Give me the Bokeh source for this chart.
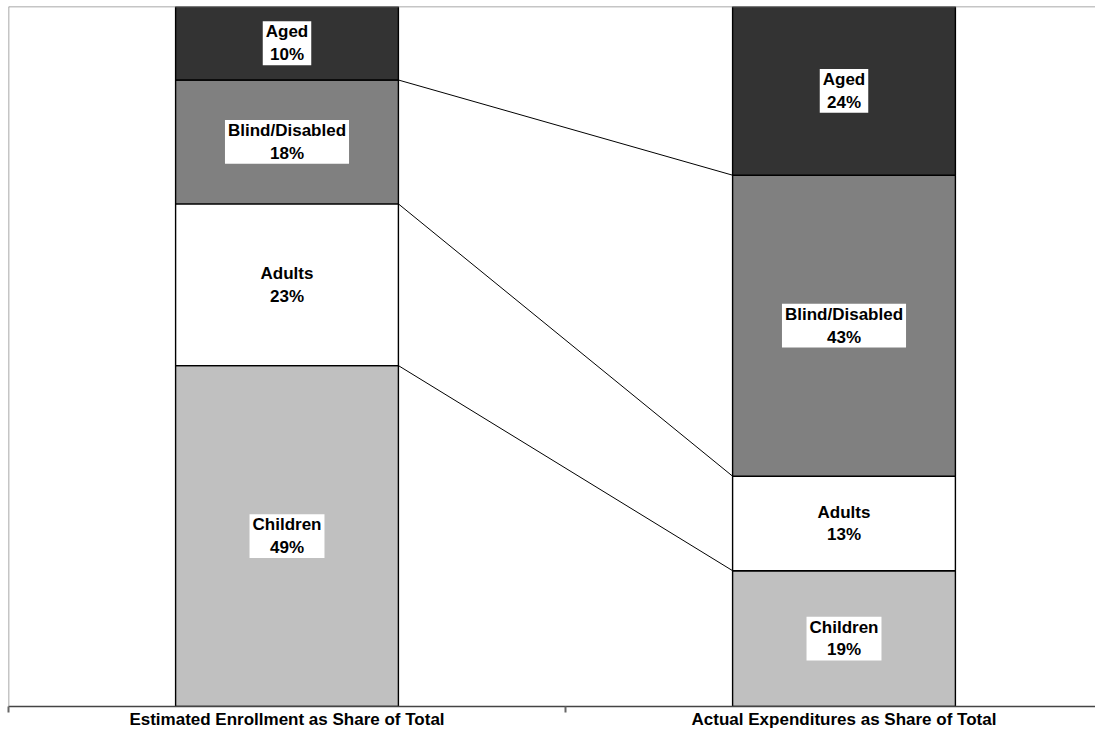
import numpy as np
from bokeh.plotting import figure
from bokeh.models import FixedTicker, Span, ColumnDataSource
from bokeh.core.properties import value
from bokeh.embed import file_html
from bokeh.resources import INLINE

groups = ["Estimated Enrollment as Share of Total", "Actual Expenditures as Share of Total"]
segments = ["Children", "Adults", "Blind/Disabled", "Aged"]
colors = ["#C0C0C0", "#FFFFFF", "#808080", "#333333"]
enrollment = [48.7, 23.1, 17.7, 10.5]
expenditures = [19.4, 13.5, 43.0, 24.1]
enrollment_labels = ["49%", "23%", "18%", "10%"]
expenditure_labels = ["19%", "13%", "43%", "24%"]

positions = [0.5, 1.5]
bar_w = 0.4

W, H = 1095, 731
LEFT, TOP = 8, 6
p = figure(width=W, height=H, output_backend="svg", toolbar_location=None,
           x_range=(0, (W - LEFT) / 557.0), y_range=(0, 100),
           min_border_left=LEFT, min_border_right=0, min_border_top=TOP,
           min_border_bottom=0)
p.outline_line_color = None
p.grid.visible = False
p.yaxis.visible = False

series = [enrollment, expenditures]
label_sets = [enrollment_labels, expenditure_labels]
for gi, (vals, labs) in enumerate(zip(series, label_sets)):
    v = np.array(vals, dtype=float)
    tops = np.cumsum(v)
    bottoms = tops - v
    src = ColumnDataSource(dict(x=[positions[gi]] * len(v), top=tops, bottom=bottoms,
                                color=colors, mid=(tops + bottoms) / 2,
                                txt=[f"{s}\n{l}" for s, l in zip(segments, labs)]))
    p.vbar(x="x", top="top", bottom="bottom", width=bar_w, fill_color="color",
           line_color="black", line_width=1.4, source=src)
    p.text(x="x", y="mid", text="txt", source=src, text_align="center",
           text_baseline="middle", text_font=value("Liberation Sans"),
           text_font_style="bold", text_font_size="17px", text_color="black",
           text_line_height=1.2, background_fill_color="white",
           padding=dict(x=3, y=1))

# connector lines between matching boundaries
b0 = np.cumsum(enrollment)[:-1]
b1 = np.cumsum(expenditures)[:-1]
p.segment(x0=[positions[0] + bar_w / 2] * len(b0), y0=b0,
          x1=[positions[1] - bar_w / 2] * len(b1), y1=b1,
          line_color="black", line_width=1)

# frame lines on top and left
p.add_layout(Span(location=100, dimension="width", line_color="#8c8c8c", line_width=1.5))
p.add_layout(Span(location=0, dimension="height", line_color="#8c8c8c", line_width=1.5))

ax = p.xaxis[0]
ax.ticker = FixedTicker(ticks=positions, minor_ticks=[0, 1, 2])
ax.major_label_overrides = {positions[0]: groups[0], positions[1]: groups[1]}
ax.major_tick_line_color = None
ax.major_tick_out = 0
ax.major_tick_in = 0
ax.minor_tick_line_color = "#666666"
ax.minor_tick_out = 6
ax.minor_tick_in = 0
ax.minor_tick_line_width = 2
ax.axis_line_color = "#444444"
ax.axis_line_width = 1.5
ax.major_label_standoff = -3
ax.major_label_text_font = "Liberation Sans"
ax.major_label_text_font_style = "bold"
ax.major_label_text_font_size = "17px"
ax.major_label_text_color = "black"

open("out.html", "w").write(file_html(p, INLINE))
